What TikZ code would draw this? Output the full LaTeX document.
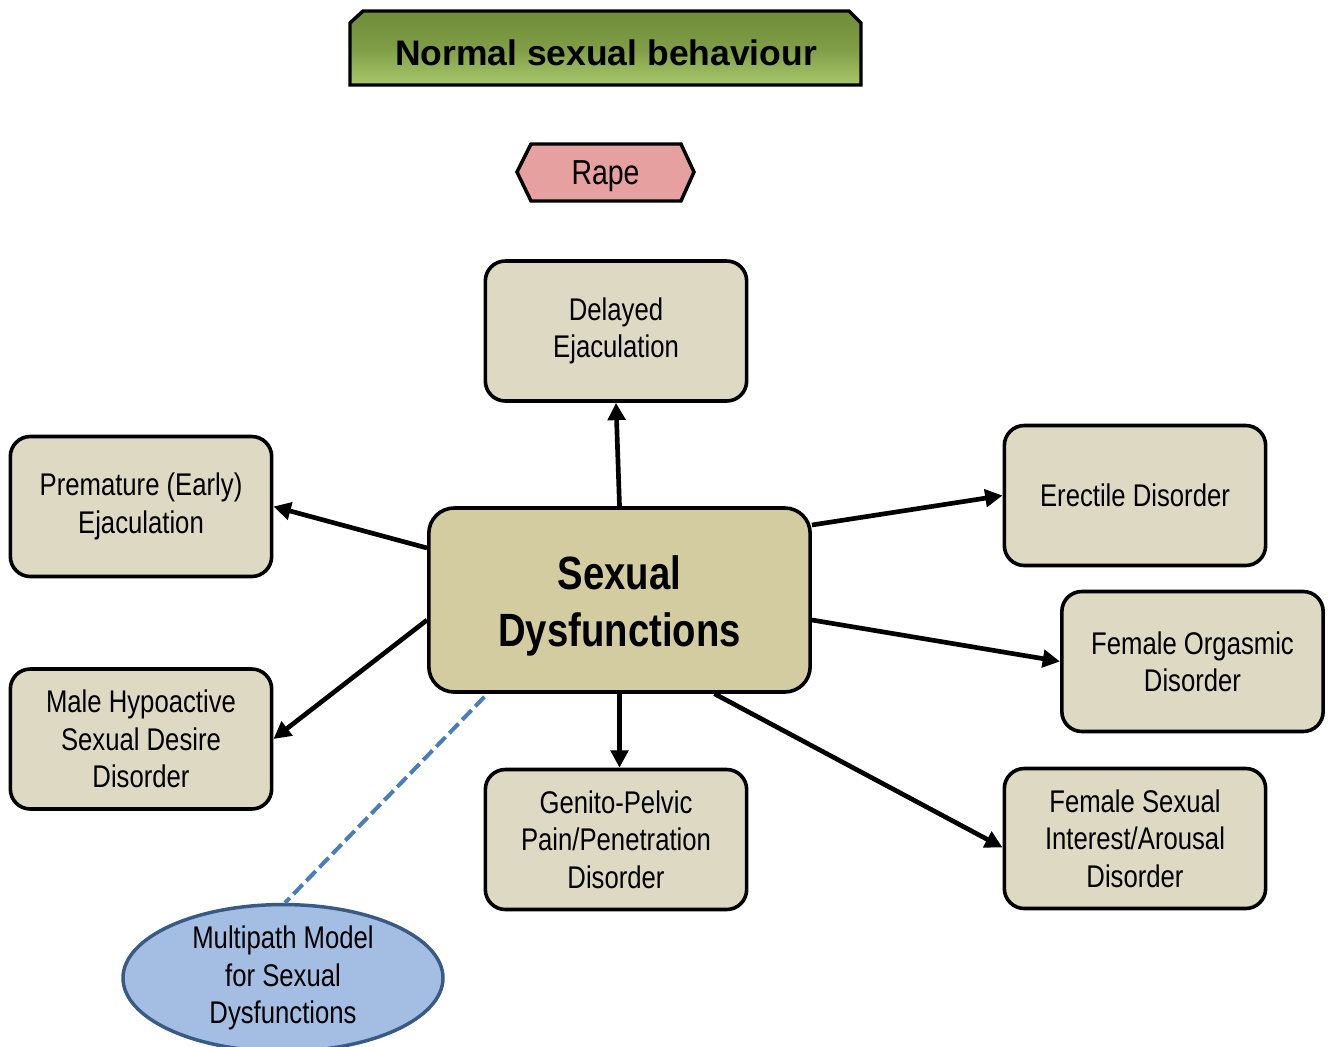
\documentclass[tikz,border=0pt]{standalone}
\usepackage{fontspec}
\setmainfont{Liberation Sans}
\newfontfamily\narrowfont[FakeStretch=0.82]{Liberation Sans}
\usetikzlibrary{arrows.meta,shapes.geometric,calc}
\definecolor{boxfill}{HTML}{DDD9C3}
\definecolor{centerfill}{HTML}{D3CCA1}
\definecolor{bannertop}{HTML}{6F8C3A}
\definecolor{bannermid}{HTML}{7E9D45}
\definecolor{bannerbot}{HTML}{A9C86C}
\definecolor{rapefill}{HTML}{E6A0A0}
\definecolor{ellfill}{HTML}{A3BEE2}
\definecolor{elldraw}{HTML}{3A5A86}
\definecolor{dashblue}{HTML}{4A7EBB}
\begin{document}
\begin{tikzpicture}[x=0.75pt,y=-0.75pt,
  box/.style={draw=black, line width=2.7pt, rounded corners=15pt, fill=boxfill,
    minimum width=196pt, minimum height=105pt, align=center, inner sep=0pt,
    font=\narrowfont\fontsize{23.5}{28}\selectfont},
  arr/.style={line width=3.5pt, -{Triangle[length=13pt,width=13pt]}},
]
\useasboundingbox[fill=white] (0,0) rectangle (1328,1046);

% banner
\draw[line width=2.6pt, top color=bannertop, bottom color=bannerbot, middle color=bannermid]
  (350,23) -- (363,11) -- (849,11) -- (861,23) -- (861,85) -- (350,85) -- cycle;
\node[font=\bfseries\fontsize{26.6}{30}\selectfont, inner sep=0pt] (banner) at (606,53) {Normal sexual behaviour};

% rape
\draw[line width=2.6pt, fill=rapefill]
  (517,172) -- (531,144) -- (681,144) -- (694,172) -- (681,201) -- (531,201) -- cycle;
\node[font=\narrowfont\fontsize{26}{30}\selectfont, inner sep=0pt] (rape) at (605.5,176) {Rape};

% center
\node[draw=black, line width=2.7pt, rounded corners=19pt, fill=centerfill,
  minimum width=286pt, minimum height=138pt, inner sep=0pt] (center) at (619.5,600) {};
\node[align=center, inner sep=0pt,
  font=\narrowfont\bfseries\fontsize{35}{43}\selectfont] (centertext) at (619.5,606) {Sexual\\Dysfunctions};

% boxes
\node[box] (delayed) at (616,331) {Delayed\\Ejaculation};
\node[box] (prem) at (141,506.5) {Premature (Early)\\Ejaculation};
\node[box] (erect) at (1135,495.5) {Erectile Disorder};
\node[box] (forg) at (1192.5,661.5) {Female Orgasmic\\Disorder};
\node[box] (male) at (141,739) {Male Hypoactive\\Sexual Desire\\Disorder};
\node[box] (genito) at (616,839.5) {Genito-Pelvic\\Pain/Penetration\\Disorder};
\node[box] (fsex) at (1135,838.5) {Female Sexual\\Interest/Arousal\\Disorder};

% ellipse
\node[ellipse, draw=elldraw, line width=2.6pt, fill=ellfill, minimum width=240pt, minimum height=107pt,
  inner sep=0pt, align=center, font=\narrowfont\fontsize{23.5}{28}\selectfont] (multi) at (283,978)
  {Multipath Model\\for Sexual\\Dysfunctions};

% connectors
\draw[arr] (center.north) -- (delayed.south);
\draw[arr] ($(center.west)+(0,-52)$) -- (prem.east);
\draw[arr] ($(center.west)+(0,20)$) -- (male.east);
\draw[arr] ($(center.east)+(0,-75)$) -- (erect.west);
\draw[arr] ($(center.east)+(0,20)$) -- (forg.west);
\draw[arr] (center.south) -- (center.south |- genito.north);
\draw[arr] ($(center.south)+(95,0)$) -- ($(fsex.west)+(0,9)$);
\draw[dashblue, line width=3pt, dash pattern=on 10pt off 4pt] ($(center.south)+(-135,3)$) -- ($(multi.north)+(2,0)$);
\end{tikzpicture}
\end{document}
